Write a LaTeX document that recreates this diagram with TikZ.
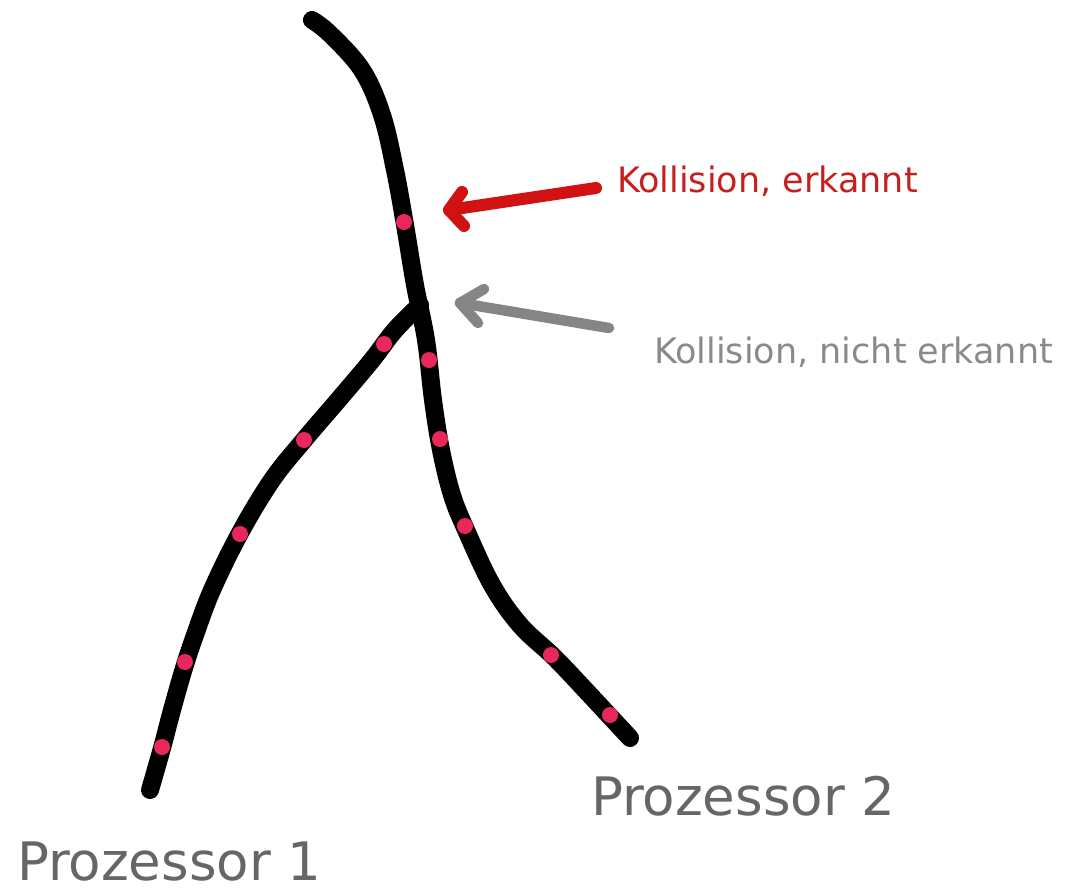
\documentclass[tikz,border=0pt]{standalone}
\usepackage{fontspec}
\setmainfont{DejaVu Sans}
\definecolor{dotpink}{HTML}{E8285A}
\definecolor{arrred}{HTML}{D01212}
\definecolor{txtred}{HTML}{C42020}
\definecolor{arrgray}{HTML}{858585}
\definecolor{txtgray}{HTML}{8A8A8A}
\definecolor{procgray}{HTML}{666666}
\tikzset{
  strand/.style={line width=18pt, line cap=round, line join=round, black},
  pinkdot/.style={fill=dotpink},
  redarrow/.style={line width=12pt, line cap=round, line join=round, arrred},
  grayarrow/.style={line width=10.5pt, line cap=round, line join=round, arrgray},
  lbl/.style={anchor=base west, inner sep=0pt, outer sep=0pt, text depth=0pt},
}
\begin{document}
\begin{tikzpicture}[x=1pt,y=-1pt]
\useasboundingbox (0,0) rectangle (1067,889);
% Main strand (Prozessor 2)
\draw[strand] plot[smooth, tension=0.6] coordinates {
  (312,20) (330,34) (362,70) (382,115) (395,170) (405,225) (415,285)
  (426,340) (433,400) (441,450) (452,495) (466,530) (492,585) (520,625)
  (555,658) (590,695) (630,738)};
% Prozessor 1 strand
\draw[strand] plot[smooth, tension=0.6] coordinates {
  (420,305) (395,330) (372,360) (340,398) (304,440) (272,480) (240,533)
  (212,590) (195,635) (184,668) (172,710) (162,748) (150,790)};
% dots
\foreach \p in {(404,222),(384,344),(429,360),(440,439),(304,440),(240,534),
  (465,526),(185,662),(551,655),(610,715),(162,747)}
  \fill[pinkdot] \p circle (8);
% red arrow
\coordinate (rt) at (449,210);
\coordinate (rs) at (596,188);
\draw[redarrow] (rs) -- (rt);
\draw[redarrow] (462,192) -- (rt) -- (464,226);
% gray arrow
\coordinate (gt) at (460,303);
\coordinate (gs) at (609,328);
\draw[grayarrow] (gs) -- (gt);
\draw[grayarrow] (484,289) -- (gt) -- (478,323);
% labels
\node[lbl, text=txtred, font=\fontsize{35}{40}\selectfont] (k1) at (617,192) {Kollision, erkannt};
\node[lbl, text=txtgray, font=\fontsize{35}{40}\selectfont] (k2) at (654,363) {Kollision, nicht erkannt};
\node[lbl, text=procgray, font=\fontsize{53}{60}\selectfont] (p2) at (591,815) {Prozessor 2};
\node[lbl, text=procgray, font=\fontsize{53}{60}\selectfont] (p1) at (17,880) {Prozessor 1};
\end{tikzpicture}
\end{document}
